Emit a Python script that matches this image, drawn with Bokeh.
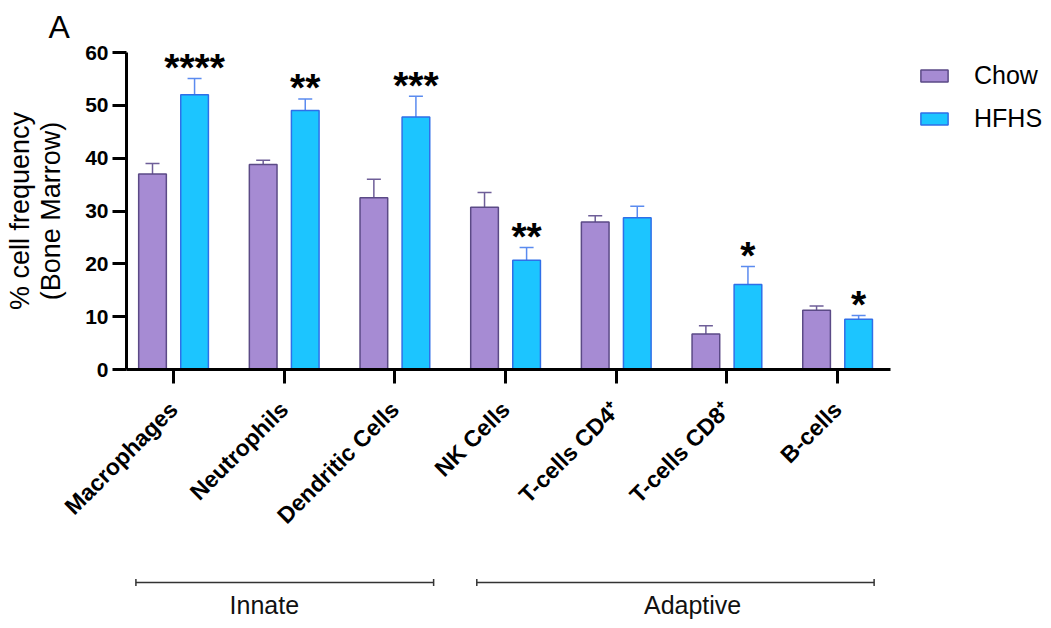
from math import pi

import numpy as np
from bokeh.core.properties import value
from bokeh.embed import file_html
from bokeh.layouts import column
from bokeh.models import (ColumnDataSource, FixedTicker, Legend, LegendItem,
                          Range1d, TeeHead, Title, Whisker)
from bokeh.plotting import figure
from bokeh.resources import INLINE

# ---- data -----------------------------------------------------------------
cell_types = ["Macrophages", "Neutrophils", "Dendritic Cells", "NK Cells",
              "T-cells CD4\u207a", "T-cells CD8\u207a", "B-cells"]
chow_mean = [37.0, 38.8, 32.5, 30.7, 27.9, 6.7, 11.2]
chow_sem = [2.0, 0.8, 3.5, 2.8, 1.2, 1.6, 0.8]
hfhs_mean = [52.0, 49.0, 47.8, 20.7, 28.7, 16.1, 9.5]
hfhs_sem = [3.1, 2.2, 3.9, 2.4, 2.2, 3.4, 0.7]
hfhs_stars = ["****", "**", "***", "**", "", "*", "*"]
group_names = ["Innate", "Adaptive"]
group_first = [0, 3]
group_last = [2, 6]
y_ticks = [0, 10, 20, 30, 40, 50, 60]

# ---- styling ----------------------------------------------------------------
CHOW_FILL, CHOW_LINE, CHOW_ERR = "#A68BD3", "#5B4A86", "#6E5E98"
HFHS_FILL, HFHS_LINE, HFHS_ERR = "#1CC5FF", "#2F6FE8", "#5B8BEF"
FONT = "Liberation Sans"
OFFSET, BAR_W = 0.19, 0.25

FRAME_W, FRAME_H = 764, 317
LEFT, RIGHT, TOP, BOTTOM = 126, 161, 52, 180
TOTAL_H = 628
MAIN_H = TOP + FRAME_H + BOTTOM
X_RANGE = Range1d(-0.425, 6.478)

idx = np.arange(len(cell_types))
chow = ColumnDataSource(dict(
    x=idx - OFFSET, mean=chow_mean,
    top=np.array(chow_mean) + np.array(chow_sem)))
hfhs = ColumnDataSource(dict(
    x=idx + OFFSET, mean=hfhs_mean,
    top=np.array(hfhs_mean) + np.array(hfhs_sem), stars=hfhs_stars))

p = figure(frame_width=FRAME_W, frame_height=FRAME_H,
           x_range=X_RANGE, y_range=Range1d(0, 60),
           output_backend="svg", toolbar_location=None,
           min_border_left=LEFT, min_border_right=RIGHT,
           min_border_top=TOP, min_border_bottom=BOTTOM)
p.outline_line_color = None
p.grid.visible = False

r_chow = p.vbar(x="x", top="mean", width=BAR_W, source=chow,
                fill_color=CHOW_FILL, line_color=CHOW_LINE, line_width=1.5)
r_hfhs = p.vbar(x="x", top="mean", width=BAR_W, source=hfhs,
                fill_color=HFHS_FILL, line_color=HFHS_LINE, line_width=1.5)

# one-sided SEM error bars
for src, col in ((chow, CHOW_ERR), (hfhs, HFHS_ERR)):
    p.add_layout(Whisker(source=src, base="x", lower="mean", upper="top",
                         dimension="height", line_color=col, line_width=1.5,
                         lower_head=None,
                         upper_head=TeeHead(size=14, line_color=col,
                                            line_width=1.5)))

# significance marks above the HFHS bars
p.text(x="x", y="top", text="stars", source=hfhs,
       text_font=value(FONT), text_font_style="bold", text_font_size="39px",
       text_align="center", text_baseline="alphabetic", y_offset=-11,
       text_color="black")

# axes
for ax in (p.xaxis[0], p.yaxis[0]):
    ax.axis_line_width = 3
    ax.axis_line_color = "black"
    ax.major_tick_line_width = 3
    ax.major_tick_line_color = "black"
    ax.major_tick_out = 14
    ax.major_tick_in = 0
    ax.minor_tick_line_color = None

p.xaxis.ticker = FixedTicker(ticks=list(idx))
p.xaxis.major_label_overrides = {int(i): name for i, name in zip(idx, cell_types)}
p.xaxis.major_label_orientation = pi / 4
p.xaxis.major_label_text_font = FONT
p.xaxis.major_label_text_font_style = "bold"
p.xaxis.major_label_text_font_size = "23px"
p.xaxis.major_label_text_color = "black"
p.xaxis.major_label_standoff = 22

p.yaxis.ticker = FixedTicker(ticks=y_ticks)
p.yaxis.major_label_text_font = FONT
p.yaxis.major_label_text_font_style = "bold"
p.yaxis.major_label_text_font_size = "21px"
p.yaxis.major_label_text_color = "black"
p.yaxis.major_label_standoff = 4
p.yaxis.axis_label = "% cell frequency\n(Bone Marrow)"
p.yaxis.axis_label_text_font = FONT
p.yaxis.axis_label_text_font_style = "normal"
p.yaxis.axis_label_text_font_size = "27px"
p.yaxis.axis_label_text_line_height = 1.05
p.yaxis.axis_label_text_color = "black"
p.yaxis.axis_label_standoff = 16

# panel letter
p.add_layout(Title(text="A", align="left", vertical_align="top", offset=-78,
                   standoff=12, text_font=FONT, text_font_size="32px",
                   text_font_style="normal", text_color="black"), "above")

legend = Legend(items=[LegendItem(label="Chow", renderers=[r_chow]),
                       LegendItem(label="HFHS", renderers=[r_hfhs])],
                location=(27, 236), margin=0, padding=10, spacing=14,
                glyph_width=34, glyph_height=15, label_standoff=23,
                label_text_font=FONT, label_text_font_size="25px",
                label_text_color="black", border_line_color=None,
                background_fill_alpha=0)
p.add_layout(legend, "right")

# ---- strip below: innate / adaptive groupings ------------------------------
strip_h = TOTAL_H - MAIN_H
g = figure(frame_width=FRAME_W, frame_height=strip_h, x_range=X_RANGE,
           y_range=Range1d(TOTAL_H, MAIN_H),      # y counts page pixels downward
           output_backend="svg", toolbar_location=None,
           x_axis_location=None, y_axis_location=None,
           min_border_left=LEFT, min_border_right=RIGHT,
           min_border_top=0, min_border_bottom=0)
g.outline_line_color = None
g.grid.visible = False

brackets = ColumnDataSource(dict(
    y=[582, 582],
    lo=[group_first[0] - 0.34, group_first[1] - 0.26],
    hi=[group_last[0] + 0.35, group_last[1] + 0.33]))
g.add_layout(Whisker(source=brackets, base="y", lower="lo", upper="hi",
                     dimension="width", line_color="#333333", line_width=1.5,
                     lower_head=TeeHead(size=7, line_color="#333333", line_width=1.5),
                     upper_head=TeeHead(size=7, line_color="#333333", line_width=1.5)))
g.text(x=[0.82, 4.69], y=[617, 617], text=group_names,
       text_font=value(FONT), text_font_size="25px", text_color="#111111",
       text_align="center", text_baseline="alphabetic", y_offset=-13)

open("out.html", "w").write(file_html(column(p, g, spacing=0), INLINE))
